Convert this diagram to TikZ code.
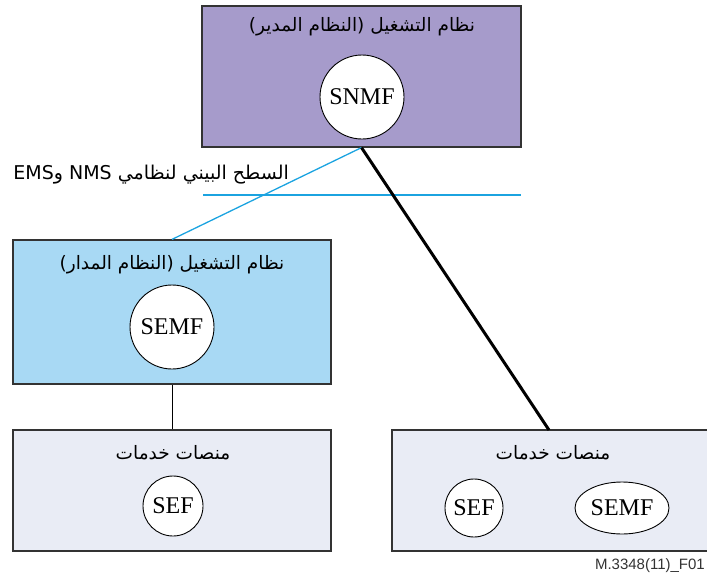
\documentclass[tikz,border=0pt]{standalone}
\usepackage{fontspec}
\setmainfont{Liberation Serif}
\setsansfont{Liberation Sans}
\newfontfamily\arabicfont[Script=Arabic]{DejaVu Sans}
\TeXXeTstate=1
\usetikzlibrary{positioning, shapes.geometric}

\definecolor{mgrfill}{HTML}{A69BCB}
\definecolor{mgdfill}{HTML}{A8D9F4}
\definecolor{platfill}{HTML}{E9ECF5}
\definecolor{ifblue}{HTML}{1BA3E0}
\definecolor{boxline}{HTML}{333333}

\begin{document}
\begin{tikzpicture}[
        x=1pt, y=-1pt,
        sysbox/.style={rectangle, draw=boxline, line width=1.2pt, inner sep=0pt},
        title/.style={font=\arabicfont\fontsize{18.5}{22}\selectfont, inner sep=1pt},
        func/.style={circle, draw=black, fill=white, line width=0.9pt, inner sep=0pt, font=\fontsize{24}{26}\selectfont},
        funcoval/.style={ellipse, draw=black, fill=white, line width=0.9pt, inner sep=0pt, font=\fontsize{24}{26}\selectfont},
        ifline/.style={ifblue, line width=1.3pt},
        mgmtline/.style={black, line width=3pt},
        link/.style={black, line width=0.8pt}
        ]
        \clip (0,0) rectangle (707,576);

        % Systems
        \node[sysbox, fill=mgrfill, minimum width=319pt, minimum height=141pt] (manager) at (361.5,76.5) {};
        \node[sysbox, fill=mgdfill, minimum width=318pt, minimum height=144pt] (managed) at (172,312) {};
        \node[sysbox, fill=platfill, minimum width=318pt, minimum height=121pt] (platL) at (172,490.5) {};
        \node[sysbox, fill=platfill, minimum width=330pt, minimum height=121pt] (platR) at (557,490.5) {};

        % Titles
        \node[title] (mgrtitle) at (362,27) {\beginR نظام التشغيل (النظام المدير)\endR};
        \node[title] (mgdtitle) at (172,265) {\beginR نظام التشغيل (النظام المدار)\endR};
        \node[title] (platLtitle) at (173,453) {\beginR منصات خدمات\endR};
        \node[title] (platRtitle) at (553,453) {\beginR منصات خدمات\endR};

        % Functions
        \node[func, minimum size=84pt] (snmf) at (362,97) {SNMF};
        \node[func, minimum size=84pt] (semf) at (172,327) {SEMF};
        \node[func, minimum size=60pt] (sefL) at (173,506) {SEF};
        \node[func, minimum size=58pt] (sefR) at (474,508) {SEF};
        \node[funcoval, minimum width=94pt, minimum height=52pt] (semfR) at (622,508) {SEMF};

        % Interface
        \coordinate (ifL) at (203,195);
        \coordinate (ifR) at (521,195);
        \node[title, anchor=east, font=\arabicfont\fontsize{19}{22}\selectfont] (iflabel) at (290,175) {\beginR السطح البيني لنظامي \beginL NMS\endL{} و\beginL EMS\endL\endR};

        % Connections
        \coordinate (attach) at (549,430);
        \draw[ifline] (ifL) -- (ifR);
        \draw[ifline] (manager.south) -- (managed.north);
        \draw[mgmtline] (manager.south) -- (attach);
        \draw[link] (managed.south) -- (platL.north);

        \node[anchor=east, font=\sffamily\fontsize{15}{17}\selectfont, text=black!80, inner sep=1pt] (figno) at (706,566) {M.3348(11)\_F01};
\end{tikzpicture}
\end{document}
